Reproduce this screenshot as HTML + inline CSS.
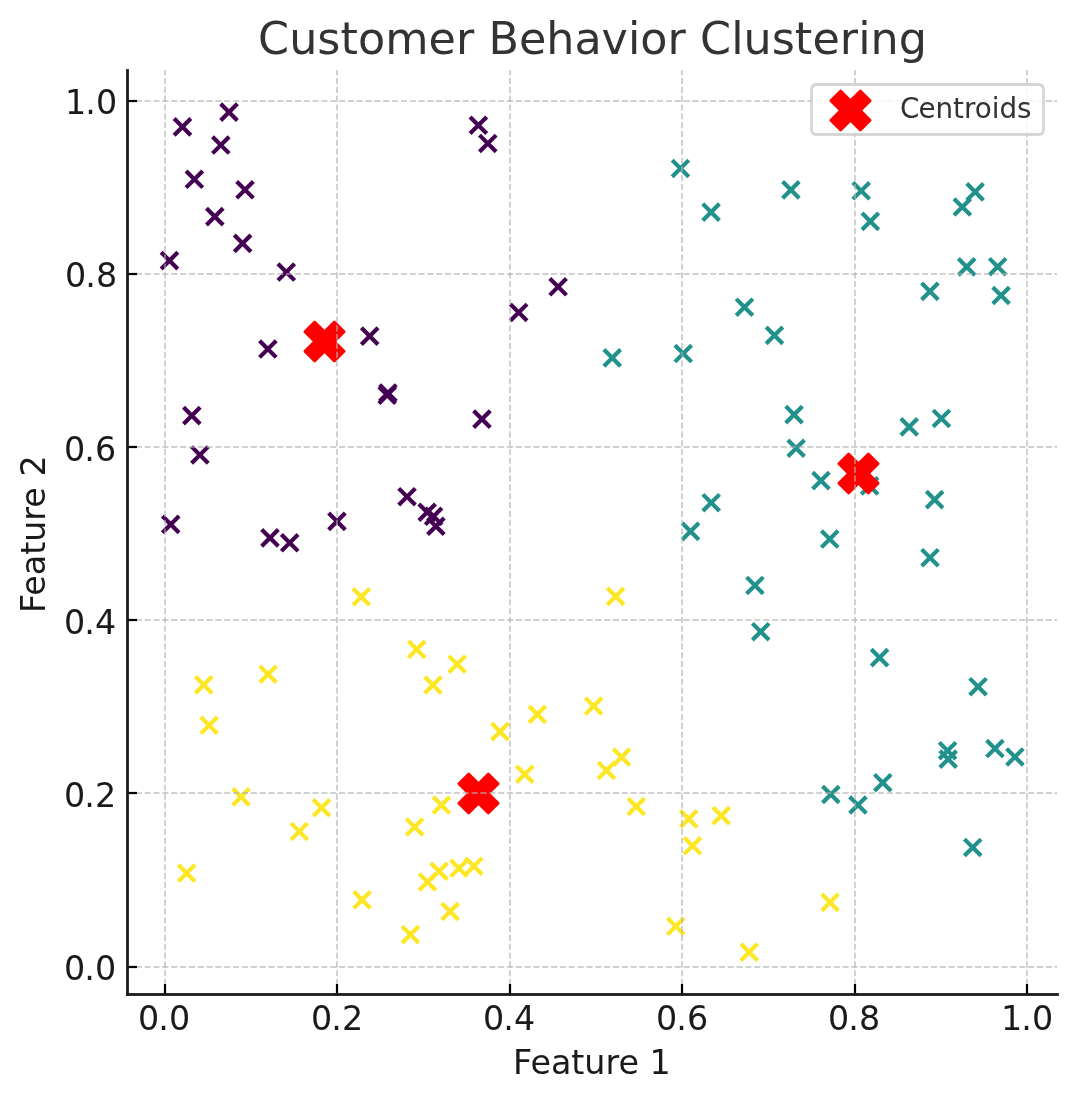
<!DOCTYPE html>
<html><head><meta charset="utf-8"><title>Customer Behavior Clustering</title>
<style>html,body{margin:0;padding:0;background:#fff;overflow:hidden}#fig{position:relative;width:1077px;height:1101px;overflow:hidden;background:#fff;will-change:transform}</style>
</head><body><div id="fig">
<svg width="1077" height="1101" viewBox="0 0 1077 1101" style="position:absolute;left:0;top:0;font-family:'DejaVu Sans','Liberation Sans',sans-serif">
<g style="fill:none;stroke-width:4.167;stroke-linecap:butt">
<path d="M479.461 151.815L496.128 135.148M479.461 135.148L496.128 151.815" stroke="#440154"/>
<path d="M787.799 456.594L804.466 439.928M787.799 439.928L804.466 456.594" stroke="#21918c"/>
<path d="M290.965 839.814L307.632 823.147M290.965 823.147L307.632 839.814" stroke="#fde725"/>
<path d="M206.487 225.001L223.154 208.334M206.487 208.334L223.154 225.001" stroke="#440154"/>
<path d="M674.904 361.873L691.57 345.206M674.904 345.206L691.57 361.873" stroke="#21918c"/>
<path d="M174.14 135.197L190.807 118.531M174.14 118.531L190.807 135.197" stroke="#440154"/>
<path d="M874.446 791.036L891.113 774.369M874.446 774.369L891.113 791.036" stroke="#21918c"/>
<path d="M313.226 816.085L329.892 799.418M313.226 799.418L329.892 816.085" stroke="#fde725"/>
<path d="M418.822 520.572L435.489 503.905M418.822 503.905L435.489 520.572" stroke="#440154"/>
<path d="M528.978 722.74L545.645 706.073M528.978 706.073L545.645 722.74" stroke="#fde725"/>
<path d="M684.166 854.099L700.833 837.432M684.166 837.432L700.833 854.099" stroke="#fde725"/>
<path d="M408.387 657.696L425.054 641.03M408.387 641.03L425.054 657.696" stroke="#fde725"/>
<path d="M549.788 295.124L566.455 278.457M549.788 278.457L566.455 295.124" stroke="#440154"/>
<path d="M328.622 529.681L345.289 513.014M328.622 513.014L345.289 529.681" stroke="#440154"/>
<path d="M667.399 934.648L684.065 917.981M667.399 917.981L684.065 934.648" stroke="#fde725"/>
<path d="M680.45 827.235L697.117 810.569M680.45 810.569L697.117 827.235" stroke="#fde725"/>
<path d="M212.498 153.398L229.164 136.732M212.498 136.732L229.164 153.398" stroke="#440154"/>
<path d="M989.334 275.021L1006.001 258.354M989.334 258.354L1006.001 275.021" stroke="#21918c"/>
<path d="M419.143 890.304L435.81 873.638M419.143 873.638L435.81 890.304" stroke="#fde725"/>
<path d="M746.601 593.815L763.268 577.148M746.601 577.148L763.268 593.815" stroke="#21918c"/>
<path d="M261.654 546.179L278.321 529.513M261.654 529.513L278.321 546.179" stroke="#440154"/>
<path d="M186.048 187.65L202.714 170.984M186.048 170.984L202.714 187.65" stroke="#440154"/>
<path d="M379.607 401.307L396.274 384.64M379.607 384.64L396.274 401.307" stroke="#440154"/>
<path d="M425.265 524.631L441.932 507.964M425.265 507.964L441.932 524.631" stroke="#440154"/>
<path d="M627.974 814.829L644.641 798.163M627.974 798.163L644.641 814.829" stroke="#fde725"/>
<path d="M992.744 303.818L1009.411 287.152M992.744 287.152L1009.411 303.818" stroke="#21918c"/>
<path d="M966.792 200.197L983.459 183.53M966.792 183.53L983.459 200.197" stroke="#21918c"/>
<path d="M672.13 176.782L688.797 160.116M672.13 160.116L688.797 176.782" stroke="#21918c"/>
<path d="M232.718 805.195L249.384 788.529M232.718 788.529L249.384 805.195" stroke="#fde725"/>
<path d="M195.397 693.218L212.064 676.551M195.397 676.551L212.064 693.218" stroke="#fde725"/>
<path d="M491.656 739.95L508.322 723.283M491.656 723.283L508.322 739.95" stroke="#fde725"/>
<path d="M871.25 666.014L887.916 649.348M871.25 649.348L887.916 666.014" stroke="#21918c"/>
<path d="M398.717 505.042L415.384 488.375M398.717 488.375L415.384 505.042" stroke="#440154"/>
<path d="M277.945 280.388L294.612 263.722M277.945 263.722L294.612 280.388" stroke="#440154"/>
<path d="M220.691 120.5L237.358 103.833M220.691 103.833L237.358 120.5" stroke="#440154"/>
<path d="M822.519 802.83L839.186 786.163M822.519 786.163L839.186 802.83" stroke="#21918c"/>
<path d="M161.148 268.905L177.814 252.239M161.148 252.239L177.814 268.905" stroke="#440154"/>
<path d="M766.117 343.75L782.783 327.083M766.117 327.083L782.783 343.75" stroke="#21918c"/>
<path d="M821.679 910.759L838.346 894.092M821.679 894.092L838.346 910.759" stroke="#fde725"/>
<path d="M465.595 874.551L482.262 857.884M465.595 857.884L482.262 874.551" stroke="#fde725"/>
<path d="M900.894 435.263L917.56 418.597M900.894 418.597L917.56 435.263" stroke="#21918c"/>
<path d="M441.816 919.837L458.482 903.17M441.816 903.17L458.482 919.837" stroke="#fde725"/>
<path d="M424.636 693.345L441.303 676.678M424.636 676.678L441.303 693.345" stroke="#fde725"/>
<path d="M785.74 422.919L802.406 406.252M785.74 406.252L802.406 422.919" stroke="#21918c"/>
<path d="M921.69 566.058L938.357 549.391M921.69 549.391L938.357 566.058" stroke="#21918c"/>
<path d="M259.546 357.395L276.213 340.729M259.546 340.729L276.213 357.395" stroke="#440154"/>
<path d="M812.634 488.956L829.301 472.289M812.634 472.289L829.301 488.956" stroke="#21918c"/>
<path d="M821.417 547.375L838.084 530.709M821.417 530.709L838.084 547.375" stroke="#21918c"/>
<path d="M607.291 604.733L623.958 588.066M607.291 588.066L623.958 604.733" stroke="#fde725"/>
<path d="M178.311 881.457L194.977 864.791M178.311 864.791L194.977 881.457" stroke="#fde725"/>
<path d="M183.495 423.912L200.162 407.245M183.495 407.245L200.162 423.912" stroke="#440154"/>
<path d="M427.547 534.584L444.213 517.918M427.547 517.918L444.213 534.584" stroke="#440154"/>
<path d="M939.247 759.045L955.914 742.378M939.247 742.378L955.914 759.045" stroke="#21918c"/>
<path d="M510.379 320.77L527.046 304.104M510.379 304.104L527.046 320.77" stroke="#440154"/>
<path d="M353.745 908.218L370.411 891.551M353.745 891.551L370.411 908.218" stroke="#fde725"/>
<path d="M406.323 835.289L422.989 818.622M406.323 818.622L422.989 835.289" stroke="#fde725"/>
<path d="M958.338 275.26L975.004 258.594M958.338 258.594L975.004 275.26" stroke="#21918c"/>
<path d="M702.756 220.426L719.422 203.759M702.756 203.759L719.422 220.426" stroke="#21918c"/>
<path d="M849.628 813.344L866.295 796.678M849.628 796.678L866.295 813.344" stroke="#21918c"/>
<path d="M926.302 507.945L942.969 491.278M926.302 491.278L942.969 507.945" stroke="#21918c"/>
<path d="M852.879 199.103L869.545 182.436M852.879 182.436L869.545 199.103" stroke="#21918c"/>
<path d="M430.693 879.587L447.359 862.92M430.693 862.92L447.359 879.587" stroke="#fde725"/>
<path d="M353 605.108L369.667 588.441M353 588.441L369.667 605.108" stroke="#fde725"/>
<path d="M862 229.715L878.667 213.048M862 213.048L878.667 229.715" stroke="#21918c"/>
<path d="M162.381 532.7L179.048 516.033M162.381 516.033L179.048 532.7" stroke="#440154"/>
<path d="M516.441 782.579L533.108 765.912M516.441 765.912L533.108 782.579" stroke="#fde725"/>
<path d="M259.78 682.583L276.446 665.916M259.78 665.916L276.446 682.583" stroke="#fde725"/>
<path d="M969.734 695.059L986.401 678.393M969.734 678.393L986.401 695.059" stroke="#21918c"/>
<path d="M603.891 366.248L620.558 349.581M603.891 349.581L620.558 366.248" stroke="#21918c"/>
<path d="M470.05 133.576L486.716 116.91M470.05 116.91L486.716 133.576" stroke="#440154"/>
<path d="M986.587 756.889L1003.254 740.223M986.587 740.223L1003.254 756.889" stroke="#21918c"/>
<path d="M585.309 714.386L601.975 697.72M585.309 697.72L601.975 714.386" stroke="#fde725"/>
<path d="M402.087 942.927L418.753 926.26M402.087 926.26L418.753 942.927" stroke="#fde725"/>
<path d="M682.192 539.685L698.859 523.018M682.192 523.018L698.859 539.685" stroke="#21918c"/>
<path d="M200.79 733.633L217.456 716.966M200.79 716.966L217.456 733.633" stroke="#fde725"/>
<path d="M939.851 767.469L956.517 750.802M939.851 750.802L956.517 767.469" stroke="#21918c"/>
<path d="M281.37 551.135L298.037 534.468M281.37 534.468L298.037 551.135" stroke="#440154"/>
<path d="M1006.602 765.31L1023.269 748.643M1006.602 748.643L1023.269 765.31" stroke="#21918c"/>
<path d="M736.166 315.517L752.832 298.85M736.166 298.85L752.832 315.517" stroke="#21918c"/>
<path d="M361.37 344.434L378.036 327.768M361.37 327.768L378.036 344.434" stroke="#440154"/>
<path d="M473.633 427.465L490.299 410.799M473.633 410.799L490.299 427.465" stroke="#440154"/>
<path d="M702.864 511.033L719.531 494.367M702.864 494.367L719.531 511.033" stroke="#21918c"/>
<path d="M234.268 251.729L250.935 235.062M234.268 235.062L250.935 251.729" stroke="#440154"/>
<path d="M433.088 813.389L449.755 796.722M433.088 796.722L449.755 813.389" stroke="#fde725"/>
<path d="M191.557 463.317L208.224 446.65M191.557 446.65L208.224 463.317" stroke="#440154"/>
<path d="M740.849 960.5L757.515 943.833M740.849 943.833L757.515 960.5" stroke="#fde725"/>
<path d="M598.114 778.78L614.78 762.113M598.114 762.113L614.78 778.78" stroke="#fde725"/>
<path d="M712.908 823.909L729.574 807.242M712.908 807.242L729.574 823.909" stroke="#fde725"/>
<path d="M752.384 640.059L769.051 623.392M752.384 623.392L769.051 640.059" stroke="#21918c"/>
<path d="M964.404 855.807L981.07 839.14M964.404 839.14L981.07 855.807" stroke="#21918c"/>
<path d="M450.587 876.625L467.253 859.958M450.587 859.958L467.253 876.625" stroke="#fde725"/>
<path d="M954.021 215.337L970.688 198.67M954.021 198.67L970.688 215.337" stroke="#21918c"/>
<path d="M378.884 403.504L395.55 386.837M378.884 386.837L395.55 403.504" stroke="#440154"/>
<path d="M861.317 494.216L877.983 477.549M861.317 477.549L877.983 494.216" stroke="#21918c"/>
<path d="M613.259 765.486L629.925 748.819M613.259 748.819L629.925 765.486" stroke="#fde725"/>
<path d="M236.694 198.129L253.361 181.463M236.694 181.463L253.361 198.129" stroke="#440154"/>
<path d="M933.081 426.776L949.748 410.11M933.081 410.11L949.748 426.776" stroke="#21918c"/>
<path d="M448.83 672.545L465.497 655.879M448.83 655.879L465.497 672.545" stroke="#fde725"/>
<path d="M782.591 198.221L799.257 181.554M782.591 181.554L799.257 198.221" stroke="#21918c"/>
<path d="M921.581 299.712L938.248 283.046M921.581 283.046L938.248 299.712" stroke="#21918c"/>
</g>
<path transform="translate(478.5 793.5)" d="M-9.821 19.642L0 9.821L9.821 19.642L19.642 9.821L9.821 0L19.642 -9.821L9.821 -19.642L0 -9.821L-9.821 -19.642L-19.642 -9.821L-9.821 0L-19.642 9.821Z" style="fill:#ff0000;stroke:#ff0000;stroke-width:2.778;stroke-linecap:butt;stroke-linejoin:round"/>
<path transform="translate(858.5 473.5)" d="M-9.821 19.642L0 9.821L9.821 19.642L19.642 9.821L9.821 0L19.642 -9.821L9.821 -19.642L0 -9.821L-9.821 -19.642L-19.642 -9.821L-9.821 0L-19.642 9.821Z" style="fill:#ff0000;stroke:#ff0000;stroke-width:2.778;stroke-linecap:butt;stroke-linejoin:round"/>
<path transform="translate(324.5 341.5)" d="M-9.821 19.642L0 9.821L9.821 19.642L19.642 9.821L9.821 0L19.642 -9.821L9.821 -19.642L0 -9.821L-9.821 -19.642L-19.642 -9.821L-9.821 0L-19.642 9.821Z" style="fill:#ff0000;stroke:#ff0000;stroke-width:2.778;stroke-linecap:butt;stroke-linejoin:round"/>
<path d="M165 994 L165 70" style="fill:none;stroke:#b0b0b0;stroke-opacity:0.7;stroke-width:1.667;stroke-linecap:butt;stroke-linejoin:round;stroke-dasharray:6.167 2.667"/>
<path transform="translate(165 994)" d="M0 0L0 -10" style="fill:#000000;stroke:#000000;stroke-width:2.222;stroke-linecap:butt;stroke-linejoin:round"/>
<text x="138 158.25 169" y="1029.5" style="font-size:33.333px;fill:#1a1a1a">0.0</text>
<path d="M337 994 L337 70" style="fill:none;stroke:#b0b0b0;stroke-opacity:0.7;stroke-width:1.667;stroke-linecap:butt;stroke-linejoin:round;stroke-dasharray:6.167 2.667"/>
<path transform="translate(337 994)" d="M0 0L0 -10" style="fill:#000000;stroke:#000000;stroke-width:2.222;stroke-linecap:butt;stroke-linejoin:round"/>
<text x="311 331.25 342" y="1029.5" style="font-size:33.333px;fill:#1a1a1a">0.2</text>
<path d="M510 994 L510 70" style="fill:none;stroke:#b0b0b0;stroke-opacity:0.7;stroke-width:1.667;stroke-linecap:butt;stroke-linejoin:round;stroke-dasharray:6.167 2.667"/>
<path transform="translate(510 994)" d="M0 0L0 -10" style="fill:#000000;stroke:#000000;stroke-width:2.222;stroke-linecap:butt;stroke-linejoin:round"/>
<text x="483 503.25 514" y="1029.5" style="font-size:33.333px;fill:#1a1a1a">0.4</text>
<path d="M682 994 L682 70" style="fill:none;stroke:#b0b0b0;stroke-opacity:0.7;stroke-width:1.667;stroke-linecap:butt;stroke-linejoin:round;stroke-dasharray:6.167 2.667"/>
<path transform="translate(682 994)" d="M0 0L0 -10" style="fill:#000000;stroke:#000000;stroke-width:2.222;stroke-linecap:butt;stroke-linejoin:round"/>
<text x="656 676.25 687" y="1029.5" style="font-size:33.333px;fill:#1a1a1a">0.6</text>
<path d="M855 994 L855 70" style="fill:none;stroke:#b0b0b0;stroke-opacity:0.7;stroke-width:1.667;stroke-linecap:butt;stroke-linejoin:round;stroke-dasharray:6.167 2.667"/>
<path transform="translate(855 994)" d="M0 0L0 -10" style="fill:#000000;stroke:#000000;stroke-width:2.222;stroke-linecap:butt;stroke-linejoin:round"/>
<text x="828 848.25 859" y="1029.5" style="font-size:33.333px;fill:#1a1a1a">0.8</text>
<path d="M1027 994 L1027 70" style="fill:none;stroke:#b0b0b0;stroke-opacity:0.7;stroke-width:1.667;stroke-linecap:butt;stroke-linejoin:round;stroke-dasharray:6.167 2.667"/>
<path transform="translate(1027 994)" d="M0 0L0 -10" style="fill:#000000;stroke:#000000;stroke-width:2.222;stroke-linecap:butt;stroke-linejoin:round"/>
<text x="1001 1021.25 1032" y="1029.5" style="font-size:33.333px;fill:#1a1a1a">1.0</text>
<text x="513 530.375 550.875 571.25 584.25 605.375 618.375 638.875 649.5" y="1073.5" style="font-size:33.333px;fill:#1a1a1a">Feature 1</text>
<path d="M127 966.5L1057 966.5" style="fill:none;stroke:#b0b0b0;stroke-opacity:0.583;stroke-width:1;stroke-linecap:butt;stroke-dasharray:6.167 2.667"/>
<path d="M127 967.5L1057 967.5" style="fill:none;stroke:#b0b0b0;stroke-opacity:0.583;stroke-width:1;stroke-linecap:butt;stroke-dasharray:6.167 2.667"/>
<path transform="translate(127 967)" d="M0 0L10 0" style="fill:#000000;stroke:#000000;stroke-width:2.222;stroke-linecap:butt;stroke-linejoin:round"/>
<text x="64 84.25 95" y="979.5" style="font-size:33.333px;fill:#1a1a1a">0.0</text>
<path d="M127 792.5L1057 792.5" style="fill:none;stroke:#b0b0b0;stroke-opacity:0.583;stroke-width:1;stroke-linecap:butt;stroke-dasharray:6.167 2.667"/>
<path d="M127 793.5L1057 793.5" style="fill:none;stroke:#b0b0b0;stroke-opacity:0.583;stroke-width:1;stroke-linecap:butt;stroke-dasharray:6.167 2.667"/>
<path transform="translate(127 793)" d="M0 0L10 0" style="fill:#000000;stroke:#000000;stroke-width:2.222;stroke-linecap:butt;stroke-linejoin:round"/>
<text x="64 84.25 95" y="806.5" style="font-size:33.333px;fill:#1a1a1a">0.2</text>
<path d="M127 619.5L1057 619.5" style="fill:none;stroke:#b0b0b0;stroke-opacity:0.583;stroke-width:1;stroke-linecap:butt;stroke-dasharray:6.167 2.667"/>
<path d="M127 620.5L1057 620.5" style="fill:none;stroke:#b0b0b0;stroke-opacity:0.583;stroke-width:1;stroke-linecap:butt;stroke-dasharray:6.167 2.667"/>
<path transform="translate(127 620)" d="M0 0L10 0" style="fill:#000000;stroke:#000000;stroke-width:2.222;stroke-linecap:butt;stroke-linejoin:round"/>
<text x="64 84.25 95" y="633.5" style="font-size:33.333px;fill:#1a1a1a">0.4</text>
<path d="M127 446.5L1057 446.5" style="fill:none;stroke:#b0b0b0;stroke-opacity:0.583;stroke-width:1;stroke-linecap:butt;stroke-dasharray:6.167 2.667"/>
<path d="M127 447.5L1057 447.5" style="fill:none;stroke:#b0b0b0;stroke-opacity:0.583;stroke-width:1;stroke-linecap:butt;stroke-dasharray:6.167 2.667"/>
<path transform="translate(127 447)" d="M0 0L10 0" style="fill:#000000;stroke:#000000;stroke-width:2.222;stroke-linecap:butt;stroke-linejoin:round"/>
<text x="64 84.25 95" y="460.5" style="font-size:33.333px;fill:#1a1a1a">0.6</text>
<path d="M127 273.5L1057 273.5" style="fill:none;stroke:#b0b0b0;stroke-opacity:0.583;stroke-width:1;stroke-linecap:butt;stroke-dasharray:6.167 2.667"/>
<path d="M127 274.5L1057 274.5" style="fill:none;stroke:#b0b0b0;stroke-opacity:0.583;stroke-width:1;stroke-linecap:butt;stroke-dasharray:6.167 2.667"/>
<path transform="translate(127 274)" d="M0 0L10 0" style="fill:#000000;stroke:#000000;stroke-width:2.222;stroke-linecap:butt;stroke-linejoin:round"/>
<text x="65 85.25 96" y="286.5" style="font-size:33.333px;fill:#1a1a1a">0.8</text>
<path d="M127 100.5L1057 100.5" style="fill:none;stroke:#b0b0b0;stroke-opacity:0.583;stroke-width:1;stroke-linecap:butt;stroke-dasharray:6.167 2.667"/>
<path d="M127 101.5L1057 101.5" style="fill:none;stroke:#b0b0b0;stroke-opacity:0.583;stroke-width:1;stroke-linecap:butt;stroke-dasharray:6.167 2.667"/>
<path transform="translate(127 101)" d="M0 0L10 0" style="fill:#000000;stroke:#000000;stroke-width:2.222;stroke-linecap:butt;stroke-linejoin:round"/>
<text x="65 85.25 96" y="113.5" style="font-size:33.333px;fill:#1a1a1a">1.0</text>
<text x="44.75 62.125 82.625 103 116 137.125 150.125 170.625 181.25" y="613.104" transform="rotate(-90 44.75 613.104)" style="font-size:33.333px;fill:#1a1a1a">Feature 2</text>
<rect x="126" y="69" width="1" height="1" fill="#1a1a1a" fill-opacity="0.79"/>
<rect x="126" y="70" width="1" height="925" fill="#1a1a1a" fill-opacity="0.889"/>
<rect x="126" y="995" width="1" height="1" fill="#1a1a1a" fill-opacity="0.79"/>
<rect x="127" y="69" width="1" height="1" fill="#1a1a1a" fill-opacity="0.889"/>
<rect x="127" y="70" width="1" height="925" fill="#1a1a1a"/>
<rect x="127" y="995" width="1" height="1" fill="#1a1a1a" fill-opacity="0.889"/>
<rect x="128" y="69" width="1" height="1" fill="#1a1a1a" fill-opacity="0.79"/>
<rect x="128" y="70" width="1" height="925" fill="#1a1a1a" fill-opacity="0.889"/>
<rect x="128" y="995" width="1" height="1" fill="#1a1a1a" fill-opacity="0.79"/>
<rect x="126" y="993" width="1" height="1" fill="#1a1a1a" fill-opacity="0.79"/>
<rect x="126" y="994" width="1" height="1" fill="#1a1a1a" fill-opacity="0.889"/>
<rect x="126" y="995" width="1" height="1" fill="#1a1a1a" fill-opacity="0.79"/>
<rect x="127" y="993" width="931" height="1" fill="#1a1a1a" fill-opacity="0.889"/>
<rect x="127" y="994" width="931" height="1" fill="#1a1a1a"/>
<rect x="127" y="995" width="931" height="1" fill="#1a1a1a" fill-opacity="0.889"/>
<rect x="1058" y="993" width="1" height="1" fill="#1a1a1a" fill-opacity="0.79"/>
<rect x="1058" y="994" width="1" height="1" fill="#1a1a1a" fill-opacity="0.889"/>
<rect x="1058" y="995" width="1" height="1" fill="#1a1a1a" fill-opacity="0.79"/>
<text x="258 289.125 317.25 340.375 358 385.25 428.5 455.875 474.25 488.375 518.875 546.25 574.375 601.5 627.875 640.25 667.5 685.875 700 731.125 743.5 771.625 794.75 812.375 839.75 858.125 870.5 898.625" y="53.5" style="font-size:44.444px;fill:#333333">Customer Behavior Clustering</text>
<path d="M816.5 134.5 L1038.5 134.5 Q1043.5 134.5 1043.5 129.5 L1043.5 90.5 Q1043.5 84.5 1038.5 84.5 L816.5 84.5 Q811.5 84.5 811.5 90.5 L811.5 129.5 Q811.5 134.5 816.5 134.5 Z" style="fill:#ffffff;fill-opacity:0.8;stroke:#cccccc;stroke-opacity:0.8;stroke-width:2.778;stroke-linecap:butt;stroke-linejoin:miter"/>
<path transform="translate(850.5 110.5)" d="M-9.821 19.642L0 9.821L9.821 19.642L19.642 9.821L9.821 0L19.642 -9.821L9.821 -19.642L0 -9.821L-9.821 -19.642L-19.642 -9.821L-9.821 0L-19.642 9.821Z" style="fill:#ff0000;stroke:#ff0000;stroke-width:2.778;stroke-linecap:butt;stroke-linejoin:round"/>
<text x="900 918.375 935.375 953 963.875 974.75 991.625 999.375 1017" y="117.5" style="font-size:27.778px;fill:#333333">Centroids</text>
</svg>
</div></body></html>
